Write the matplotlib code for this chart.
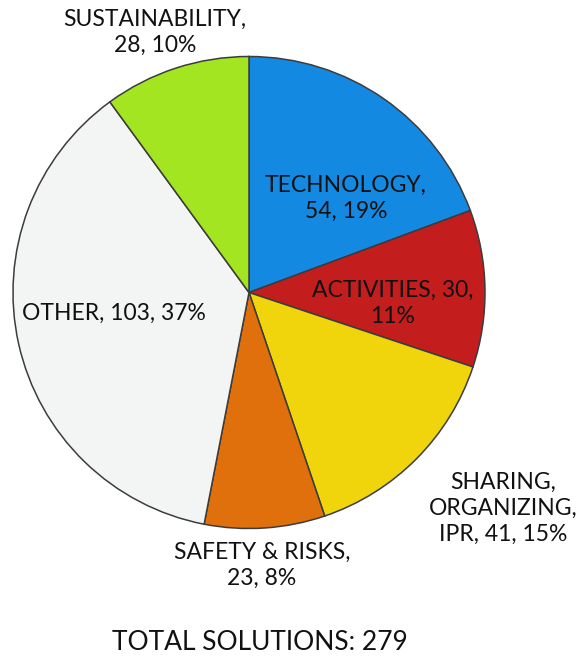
import matplotlib.pyplot as plt

# Data
categories = ['TECHNOLOGY', 'ACTIVITIES', 'SHARING, ORGANIZING, IPR',
              'SAFETY & RISKS', 'OTHER', 'SUSTAINABILITY']
counts = [54, 30, 41, 23, 103, 28]
colors = ['#1489e2', '#c41d1d', '#f0d50c', '#e0700c', '#f3f4f4', '#a2e520']

total = sum(counts)
pcts = [round(100 * c / total) for c in counts]

# label layout (line breaks as in the original)
label_text = [
    f"TECHNOLOGY,\n{counts[0]}, {pcts[0]}%",
    f"ACTIVITIES, {counts[1]},\n{pcts[1]}%",
    f"SHARING,\nORGANIZING,\nIPR, {counts[2]}, {pcts[2]}%",
    f"SAFETY & RISKS,\n{counts[3]}, {pcts[3]}%",
    f"OTHER, {counts[4]}, {pcts[4]}%",
    f"SUSTAINABILITY,\n{counts[5]}, {pcts[5]}%",
]
# label centres in pixels from top-left
label_pos = [(346, 198), (393, 303), (503, 508), (262, 565), (114, 313), (155, 32)]

W, H = 582, 661
fig = plt.figure(figsize=(W / 100, H / 100), dpi=100)
ax = fig.add_axes([0, 0, 1, 1])

ax.pie(counts, colors=colors, startangle=90, counterclock=False,
       center=(249, H - 292.5), radius=236, frame=True,
       wedgeprops=dict(edgecolor='#3c3c3c', linewidth=1.1))
ax.set_xlim(0, W)
ax.set_ylim(0, H)
ax.set_aspect('equal')
ax.axis('off')

font = ['Lato', 'DejaVu Sans']
for txt, (x, y) in zip(label_text, label_pos):
    ax.text(x, H - y, txt, ha='center', va='center', fontsize=16.5,
            family=font, color='#111111', linespacing=1.3)

ax.text(260, H - 643, f"TOTAL SOLUTIONS: {total}", ha='center', va='center',
        fontsize=19, family=font, color='#111111')

plt.savefig('out.png', dpi=100)
plt.close()
